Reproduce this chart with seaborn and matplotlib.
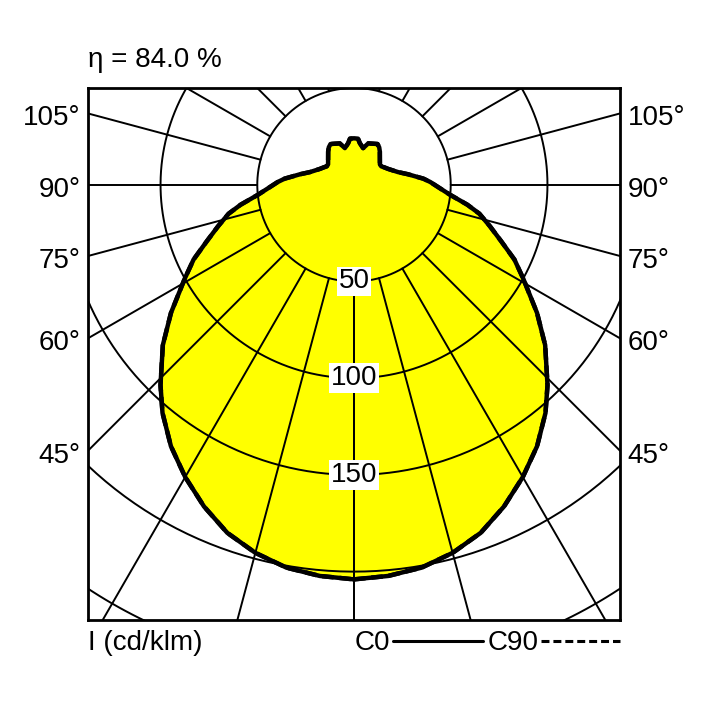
import matplotlib
matplotlib.use('Agg')
import matplotlib.pyplot as plt
from matplotlib.lines import Line2D
import numpy as np
import pandas as pd
import seaborn as sns

# luminous intensity (cd/klm) vs gamma angle (0 = straight down), C0 == C90
gamma = [0, 5, 10, 15, 20, 25, 30, 35, 40, 44, 50, 55, 61, 65, 69, 73, 77,
         80, 84, 88, 92, 95, 97, 101, 106, 110, 115, 120, 124, 128, 134,
         142, 146, 150, 155, 161, 166, 172, 175, 180]
intensity = [204, 203, 201, 197, 191.5, 183.5, 174.5, 165, 154, 144, 129,
             115.5, 100, 91.5, 81.5, 73.5, 66.5, 59.5, 50, 44, 39.5, 36,
             33, 28.4, 23.7, 21.5, 19.4, 18, 17, 17, 18.6, 21.7, 23.3,
             24.3, 23.4, 22.6, 19.5, 21.7, 23.9, 24]

ring_values = [50, 100, 150, 200, 250]
ring_labels = [50, 100, 150]
spoke_angles = list(range(0, 181, 15))
side_labels = [45, 60, 75, 90, 105]
efficiency = "η = 84.0 %"

sns.set_theme(style="white")
plt.rcParams['font.family'] = ['Liberation Sans', 'DejaVu Sans']
plt.rcParams['text.color'] = 'black'

fig = plt.figure(figsize=(7.08, 7.08), dpi=100)
ax = fig.add_axes([88 / 708, 88 / 708, 532 / 708, 532 / 708])
XMAX = 137.5
ax.set_xlim(-XMAX, XMAX)
ax.set_ylim(-225, 50)
ax.set_aspect('equal')
ax.set_xticks([])
ax.set_yticks([])
for s in ax.spines.values():
    s.set_visible(True)
    s.set_color('black')
    s.set_linewidth(2)

# full closed curve (mirror right half to the left)
g = np.radians(gamma)
I = np.array(intensity)
xr = I * np.sin(g)
yr = -I * np.cos(g)
curve = pd.DataFrame({
    'x': np.concatenate([xr, -xr[::-1][1:]]),
    'y': np.concatenate([yr, yr[::-1][1:]]),
})

ax.fill(curve['x'], curve['y'], color='#ffff00', zorder=1, lw=0)

# grid rings
t = np.linspace(0, 2 * np.pi, 400)
for r in ring_values:
    ax.plot(r * np.cos(t), r * np.sin(t), color='black', lw=1.4, zorder=2)

# spokes, starting at the 50 ring
for a in spoke_angles:
    for sgn in (1, -1):
        ar = np.radians(a)
        rr = np.array([ring_values[0], 500])
        ax.plot(sgn * rr * np.sin(ar), -rr * np.cos(ar), color='black',
                lw=1.4, zorder=2)

# C0 solid, C90 dashed (identical distributions)
sns.lineplot(data=curve, x='x', y='y', sort=False, color='black', lw=3.2,
             ax=ax, zorder=3, estimator=None)
sns.lineplot(data=curve, x='x', y='y', sort=False, color='black', lw=3.2,
             ls=(0, (2.6, 1.3)), ax=ax, zorder=3, estimator=None)
ax.set_xlabel('')
ax.set_ylabel('')

FS = 20
for r in ring_labels:
    ax.text(0, -r, str(r), ha='center', va='center', fontsize=FS,
            zorder=4, bbox=dict(facecolor='white', edgecolor='none', pad=1.5))

for a in side_labels:
    yy = -XMAX / np.tan(np.radians(a)) - 2.5
    ax.text(-XMAX - 4, yy, f"{a}°", ha='right', va='center', fontsize=FS)
    ax.text(XMAX + 4, yy, f"{a}°", ha='left', va='center', fontsize=FS)

fig.text(88 / 708, 1 - 60 / 708, efficiency, ha='left', va='center',
         fontsize=FS)
fig.text(88 / 708, 1 - 643 / 708, "I (cd/klm)", ha='left', va='center',
         fontsize=FS)
fig.text(355 / 708, 1 - 643 / 708, "C0", ha='left', va='center', fontsize=FS)
fig.text(488 / 708, 1 - 643 / 708, "C90", ha='left', va='center',
         fontsize=FS)
fig.add_artist(Line2D([393 / 708, 483 / 708], [1 - 641 / 708] * 2,
                      color='black', lw=2.2, transform=fig.transFigure))
fig.add_artist(Line2D([541 / 708, 620 / 708], [1 - 641 / 708] * 2,
                      color='black', lw=2.2, ls=(0, (2.6, 1.3)),
                      transform=fig.transFigure))

fig.savefig('out.png', dpi=100, facecolor='white')
plt.close(fig)
